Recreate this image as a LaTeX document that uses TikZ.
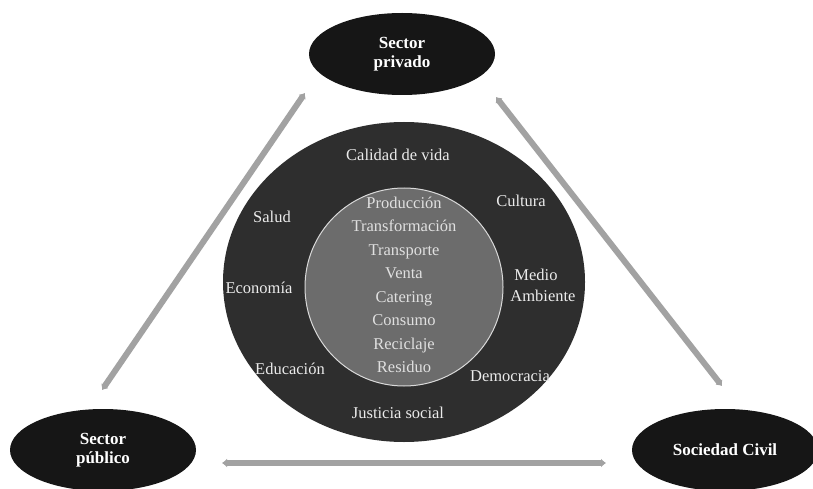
\documentclass[tikz,border=0pt]{standalone}
\usepackage{fontspec}
\setmainfont{Liberation Serif}
\usetikzlibrary{shapes.geometric,arrows.meta}
\definecolor{actor}{HTML}{161616}
\definecolor{outerring}{HTML}{2E2E2E}
\definecolor{core}{HTML}{6C6C6C}
\definecolor{link}{HTML}{A2A2A2}
\tikzset{
  actorbox/.style={ellipse, fill=actor, draw=none, inner sep=0pt,
    minimum width=186pt, minimum height=82pt, text=white,
    font=\fontsize{17}{19}\selectfont\bfseries, align=center},
  ringlabel/.style={text=white!92!black, font=\fontsize{16.5}{21}\selectfont, align=center, inner sep=0pt},
  corelabel/.style={text=white!88!black, font=\fontsize{16.5}{23.5}\selectfont, align=center, inner sep=0pt},
  linkarrow/.style={draw=link, line width=6pt, {Latex[length=5pt,width=9pt]}-{Latex[length=5pt,width=9pt]}}
}
\begin{document}
\begin{tikzpicture}[x=1pt,y=-1pt]
\useasboundingbox[fill=white] (0,0) rectangle (813,489);

% actors
\node[actorbox] (priv) at (402,54) {Sector\\privado};
\node[actorbox] (pub) at (103,450) {Sector\\público};
\node[actorbox] (civ) at (725,450) {Sociedad Civil};

% rings
\node[ellipse, fill=outerring, minimum width=362pt, minimum height=320pt, inner sep=0pt] (ring) at (404,282) {};
\node[circle, fill=core, draw=white!85!black, line width=1pt, minimum size=198pt, inner sep=0pt] (core) at (404,287) {};

% connectors between actors
\coordinate (pubA) at (102,390);
\coordinate (privA) at (305,93);
\coordinate (privB) at (496,97);
\coordinate (civA) at (722,386);
\coordinate (pubB) at (222,463);
\coordinate (civB) at (606,463);
\draw[linkarrow] (pubA) -- (privA);
\draw[linkarrow] (privB) -- (civA);
\draw[linkarrow] (pubB) -- (civB);

% outer ring labels
\node[ringlabel] (calidad) at (398,155) {Calidad de vida};
\node[ringlabel] (salud) at (272,217) {Salud};
\node[ringlabel] (cultura) at (521,201) {Cultura};
\node[ringlabel] (economia) at (259,288) {Economía};
\node[ringlabel] (medio) at (536,285) {Medio\\\hspace*{14pt}Ambiente};
\node[ringlabel] (educacion) at (290,369) {Educación};
\node[ringlabel] (democracia) at (510,376) {Democracia};
\node[ringlabel] (justicia) at (398,413) {Justicia social};

% chain inside the core
\node[corelabel] (chain) at (404,285) {Producción\\Transformación\\Transporte\\Venta\\Catering\\Consumo\\Reciclaje\\Residuo};
\end{tikzpicture}
\end{document}
